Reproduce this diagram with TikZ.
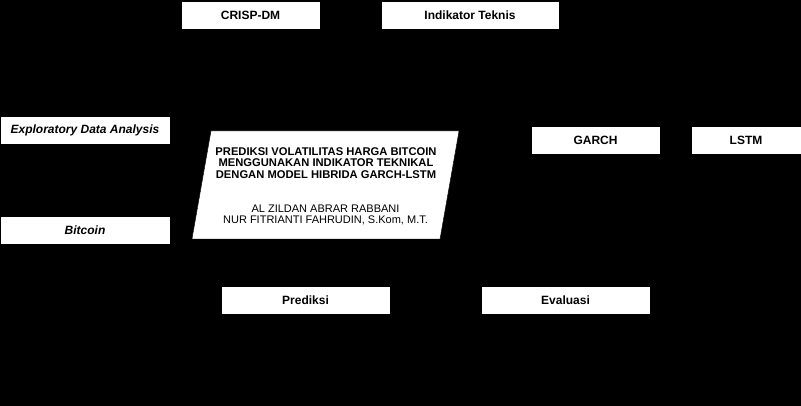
\documentclass[tikz,border=0pt]{standalone}
\usepackage{fontspec}
\setmainfont{Liberation Sans}
\begin{document}
\begin{tikzpicture}[x=1pt,y=-1pt,
  box/.style={draw=black,fill=white,minimum height=28pt,inner sep=0pt,font=\fontsize{12}{14}\selectfont\bfseries},
  ibox/.style={box,font=\fontsize{12}{14}\selectfont\bfseries\itshape}]
\fill[black] (0,0) rectangle (801,406);
\useasboundingbox (0,0) rectangle (801,406);
\node[box,minimum width=139pt] (crisp) at (250.5,15) {CRISP-DM};
\node[box,minimum width=178pt] (ind) at (470,15) {Indikator Teknis};
\node[ibox,minimum width=170pt] (eda) at (85,130) {Exploratory Data Analysis};
\node[ibox,minimum width=170pt] (btc) at (85,230) {Bitcoin};
\node[box,minimum width=129pt] (garch) at (595.5,140) {GARCH};
\node[box,minimum width=110pt] (lstm) at (746,140) {LSTM};
\node[box,minimum width=169pt] (pred) at (305.5,300) {Prediksi};
\node[box,minimum width=169pt] (eval) at (565.5,300) {Evaluasi};
\coordinate (p1) at (211,131);
\coordinate (p2) at (459,131);
\coordinate (p3) at (440,239);
\coordinate (p4) at (192,239);
\filldraw[fill=white,draw=black] (p1) -- (p2) -- (p3) -- (p4) -- cycle;
\node[align=center,font=\fontsize{11.2}{11.8}\selectfont\bfseries] (title) at (326,163) {PREDIKSI VOLATILITAS HARGA BITCOIN\\MENGGUNAKAN INDIKATOR TEKNIKAL\\DENGAN MODEL HIBRIDA GARCH-LSTM};
\node[align=center,font=\fontsize{11}{11}\selectfont] (auth) at (325.5,215) {AL ZILDAN ABRAR RABBANI\\NUR FITRIANTI FAHRUDIN, S.Kom, M.T.};
\end{tikzpicture}
\end{document}
